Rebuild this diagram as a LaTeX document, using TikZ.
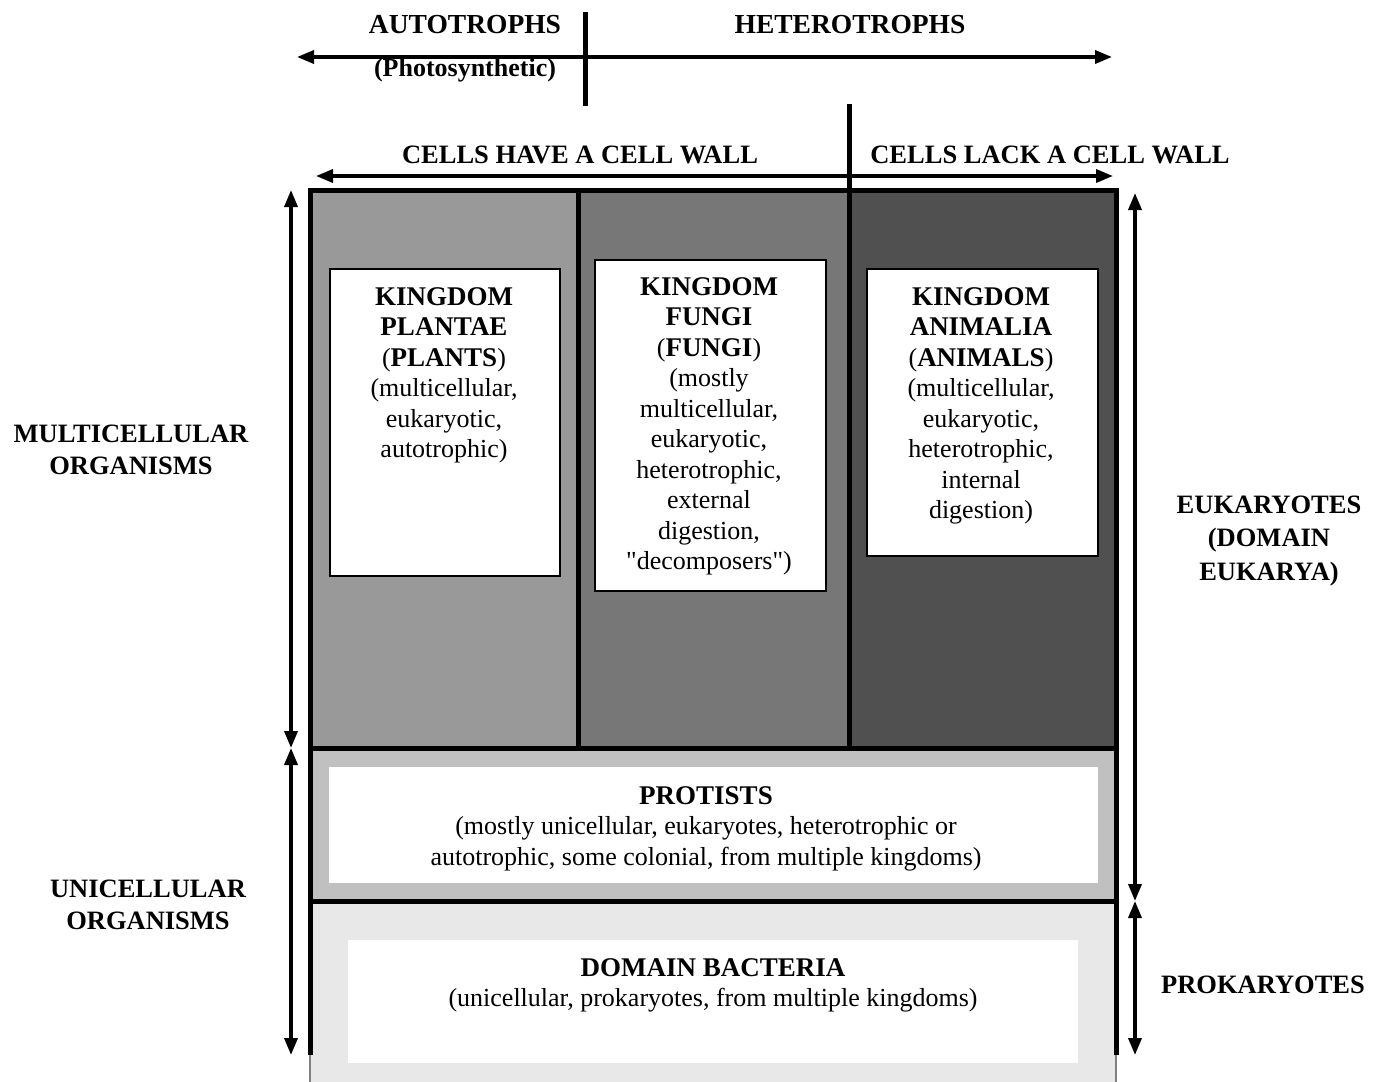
\documentclass[tikz,border=0pt]{standalone}
\usepackage{fontspec}
\setmainfont{Liberation Serif}
\newfontfamily\nomap{Liberation Serif}[Ligatures=TeXOff]
\usetikzlibrary{arrows.meta}
\definecolor{plantgray}{RGB}{153,153,153}
\definecolor{fungigray}{RGB}{119,119,119}
\definecolor{animalgray}{RGB}{80,80,80}
\definecolor{protgray}{RGB}{192,192,192}
\definecolor{bactgray}{RGB}{232,232,232}
\newcommand{\kh}[1]{{\fontsize{27}{30.5}\selectfont\bfseries #1}}
\newcommand{\sq}{{\nomap"}}
\begin{document}
\begin{tikzpicture}[x=1pt,y=-1pt,
  tip/.tip={Triangle[length=17pt,width=13pt]},
  darr/.style={line width=3.5pt,{tip}-{tip}},
  divider/.style={line width=5pt},
  border/.style={line width=5pt},
  inbox/.style={draw=black,line width=1.5pt,fill=white,inner sep=0pt,anchor=north west},
  body/.style={align=center,inner sep=0pt,font=\fontsize{26}{30.5}\selectfont},
  ttl/.style={align=center,inner sep=0pt,font=\fontsize{26.5}{32}\selectfont\bfseries},
  hd/.style={align=center,inner sep=0pt,font=\fontsize{27.5}{32}\selectfont\bfseries},
]
\useasboundingbox (0,0) rectangle (1385,1082);
\fill[white] (0,0) rectangle (1385,1082);

% background fills
\fill[plantgray] (310,190) rectangle (578,748);
\fill[fungigray] (578,190) rectangle (849,748);
\fill[animalgray] (849,190) rectangle (1116,748);
\fill[protgray] (310,748) rectangle (1116,901);
\fill[bactgray] (310,901) rectangle (1116,1082);

% inner boxes
\node[inbox,minimum width=230pt,minimum height=307pt] (plantbox) at (329,268) {};
\node[inbox,minimum width=231pt,minimum height=331pt] (fungibox) at (594,259) {};
\node[inbox,minimum width=231pt,minimum height=287pt] (animalbox) at (866,268) {};
\node[fill=white,inner sep=0pt,anchor=north west,minimum width=769pt,minimum height=116pt] (protbox) at (329,767) {};
\node[fill=white,inner sep=0pt,anchor=north west,minimum width=730pt,minimum height=123pt] (bactbox) at (348,940) {};

% coordinates for structure lines
\coordinate (tl) at (310,190);
\coordinate (tr) at (1116,190);
\coordinate (ml) at (310,748);
\coordinate (mr) at (1116,748);
\coordinate (pl) at (310,901);
\coordinate (pr) at (1116,901);
\coordinate (bl) at (310,1055);
\coordinate (br) at (1116,1055);
\coordinate (bl2) at (310,1082);
\coordinate (br2) at (1116,1082);
\coordinate (d1t) at (578,190);
\coordinate (d1b) at (578,748);
\coordinate (v1t) at (585,12);
\coordinate (v1b) at (585,106);
\coordinate (v2t) at (849,104);
\coordinate (v2b) at (849,750);

\draw[border] (bl) -- (tl) -- (tr) -- (br);
\draw[border] (ml) -- (mr);
\draw[border] (pl) -- (pr);
\draw[line width=1.5pt,gray] (bl) -- (bl2);
\draw[line width=1.5pt,gray] (br) -- (br2);
\draw[divider] (d1t) -- (d1b);
\draw[divider] (v1t) -- (v1b);
\draw[divider] (v2t) -- (v2b);

% arrows
\coordinate (a1l) at (297,57);
\coordinate (a1r) at (1112,57);
\coordinate (a2l) at (316,176);
\coordinate (a2r) at (1113,176);
\coordinate (la) at (291,190);
\coordinate (lb) at (291,748);
\coordinate (lc) at (291,1055);
\coordinate (ra) at (1135,193);
\coordinate (rb) at (1135,901);
\coordinate (rc) at (1135,1055);
\draw[darr] (a1l) -- (a1r);
\draw[darr] (a2l) -- (a2r);
\draw[darr] (la) -- (lb);
\draw[darr] (lb) -- (lc);
\draw[darr] (ra) -- (rb);
\draw[darr] (rb) -- (rc);

% top labels
\node[hd] (auto) at (465,25) {AUTOTROPHS};
\node[align=center,inner sep=0pt,font=\fontsize{26}{30}\selectfont\bfseries] (photo) at (465,70) {(Photosynthetic)};
\node[hd] (hetero) at (850,25) {HETEROTROPHS};
\node[ttl] (wall) at (580,155) {CELLS HAVE A CELL WALL};
\node[ttl] (nowall) at (1050,155) {CELLS LACK A CELL WALL};

% side labels
\node[ttl] (multi) at (131,450) {MULTICELLULAR\\ORGANISMS};
\node[ttl] (uni) at (148,905) {UNICELLULAR\\ORGANISMS};
\node[ttl,font=\fontsize{26.5}{33.5}\selectfont\bfseries] (euk) at (1269,541) {EUKARYOTES\\(DOMAIN\\EUKARYA)};
\node[ttl] (prok) at (1263,985) {PROKARYOTES};

% kingdom texts
\node[body,anchor=north] (planttxt) at (444,287) {\kh{KINGDOM}\\\kh{PLANTAE}\\(\kh{PLANTS})\\(multicellular,\\eukaryotic,\\autotrophic)};
\node[body,anchor=north] (fungitxt) at (709,277) {\kh{KINGDOM}\\\kh{FUNGI}\\(\kh{FUNGI})\\(mostly\\multicellular,\\eukaryotic,\\heterotrophic,\\external\\digestion,\\\sq decomposers\sq)};
\node[body,anchor=north] (animaltxt) at (981,287) {\kh{KINGDOM}\\\kh{ANIMALIA}\\(\kh{ANIMALS})\\(multicellular,\\eukaryotic,\\heterotrophic,\\internal\\digestion)};
\node[body,anchor=north] (prottxt) at (706,786) {\kh{PROTISTS}\\(mostly unicellular, eukaryotes, heterotrophic or\\autotrophic, some colonial, from multiple kingdoms)};
\node[body,anchor=north] (bacttxt) at (713,958) {\kh{DOMAIN BACTERIA}\\(unicellular, prokaryotes, from multiple kingdoms)};
\end{tikzpicture}
\end{document}
